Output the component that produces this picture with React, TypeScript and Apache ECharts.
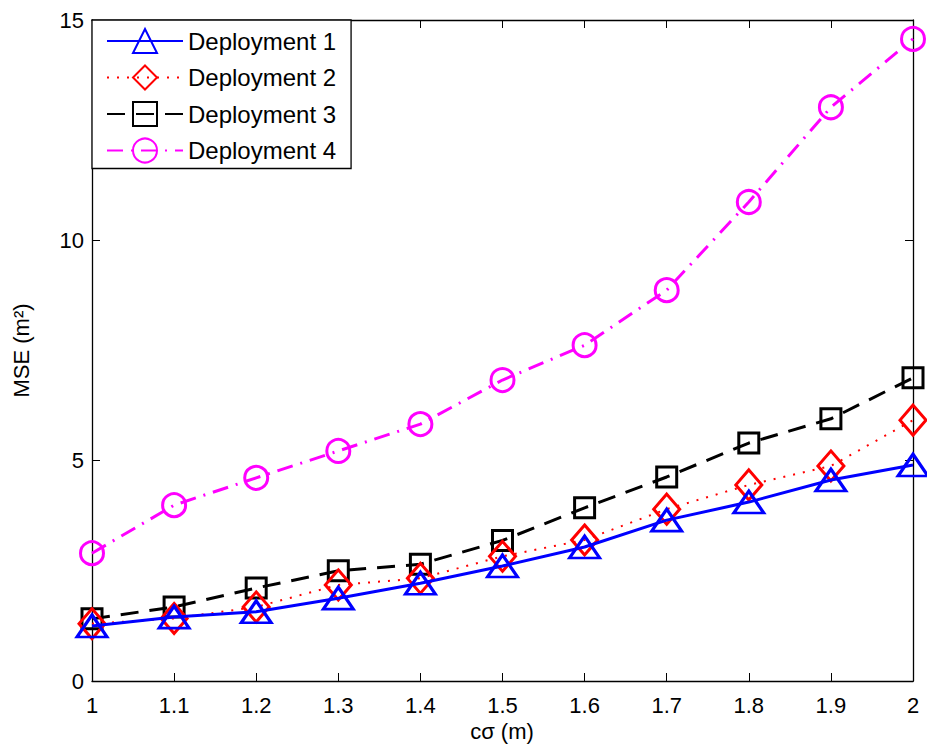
import React, { useEffect, useRef } from "react";
import * as echarts from "echarts";

const xValues = [1.0, 1.1, 1.2, 1.3, 1.4, 1.5, 1.6, 1.7, 1.8, 1.9, 2.0];
const dep1 = [1.25, 1.45, 1.57, 1.88, 2.22, 2.61, 3.04, 3.65, 4.06, 4.56, 4.9];
const dep2 = [1.3, 1.42, 1.68, 2.18, 2.33, 2.83, 3.2, 3.9, 4.45, 4.88, 5.92];
const dep3 = [1.41, 1.68, 2.11, 2.5, 2.65, 3.19, 3.93, 4.63, 5.4, 5.95, 6.88];
const dep4 = [2.9, 3.99, 4.61, 5.22, 5.83, 6.83, 7.62, 8.87, 10.87, 13.02, 14.57];
const seriesNames = ["Deployment 1", "Deployment 2", "Deployment 3", "Deployment 4"];
const yTicks = { min: 0, max: 15, interval: 5 };
const xTicks = { min: 1, max: 2, interval: 0.1 };
const xAxisTitle = "cσ (m)";
const yAxisTitle = "MSE (m²)";

const FONT = "Liberation Sans, Arial, Helvetica, sans-serif";

function pairs(ys: number[]) {
  return xValues.map((x, i) => [x, ys[i]]);
}

export default function App() {
  const ref = useRef<HTMLDivElement>(null);
  useEffect(() => {
    if (!ref.current) return;
    const chart = echarts.init(ref.current, undefined, { renderer: "svg" });
    const axisLine = { show: true, onZero: false, lineStyle: { color: "#000", width: 1.3 } };
    const tick = { show: true, inside: true, length: 8, lineStyle: { color: "#000", width: 1 } };
    chart.setOption({
      animation: false,
      backgroundColor: "#fff",
      textStyle: { fontFamily: FONT },
      grid: { left: 92, right: 14, top: 20, bottom: 63, containLabel: false, outerBoundsMode: "none" },
      graphic: [
        {
          type: "text",
          x: 502,
          y: 731,
          style: {
            text: xAxisTitle,
            fontSize: 22,
            lineHeight: 22,
            fontFamily: FONT,
            fill: "#000",
            align: "center",
            verticalAlign: "middle",
          },
        },
      ],
      legend: {
        data: seriesNames,
        orient: "vertical",
        left: 92,
        top: 20,
        backgroundColor: "#fff",
        borderColor: "#000",
        borderWidth: 1.3,
        borderRadius: 0,
        padding: [8, 15, 5, 14],
        itemWidth: 76,
        itemHeight: 30,
        itemGap: 10.5,
        textStyle: { fontSize: 24, color: "#000", fontFamily: FONT },
      },
      xAxis: [
        {
          type: "value",
          min: xTicks.min,
          max: xTicks.max,
          interval: xTicks.interval,
          axisLine,
          axisTick: tick,
          axisLabel: { fontSize: 22, lineHeight: 22, color: "#000", margin: 13, fontFamily: FONT },
          splitLine: { show: false },
        },
        {
          type: "value",
          position: "top",
          min: xTicks.min,
          max: xTicks.max,
          interval: xTicks.interval,
          axisLine,
          axisTick: tick,
          axisLabel: { show: false },
          splitLine: { show: false },
        },
      ],
      yAxis: [
        {
          type: "value",
          min: yTicks.min,
          max: yTicks.max,
          interval: yTicks.interval,
          name: yAxisTitle,
          nameLocation: "middle",
          nameGap: 60,
          nameTextStyle: { fontSize: 22, color: "#000", fontFamily: FONT },
          axisLine,
          axisTick: tick,
          axisLabel: { fontSize: 22, color: "#000", margin: 8, fontFamily: FONT },
          splitLine: { show: false },
        },
        {
          type: "value",
          position: "right",
          min: yTicks.min,
          max: yTicks.max,
          interval: yTicks.interval,
          axisLine,
          axisTick: tick,
          axisLabel: { show: false },
          splitLine: { show: false },
        },
      ],
      series: [
        {
          name: seriesNames[0],
          type: "line",
          data: pairs(dep1),
          symbol: "triangle",
          symbolSize: [30, 22],
          lineStyle: { color: "#0000ff", width: 3, type: "solid" },
          itemStyle: { color: "rgba(0,0,0,0)", borderColor: "#0000ff", borderWidth: 3 },
          z: 4,
        },
        {
          name: seriesNames[1],
          type: "line",
          data: pairs(dep2),
          symbol: "diamond",
          symbolSize: [26, 30],
          lineStyle: { color: "#ff0000", width: 2, type: [2, 8] },
          itemStyle: { color: "rgba(0,0,0,0)", borderColor: "#ff0000", borderWidth: 3 },
          z: 3,
        },
        {
          name: seriesNames[2],
          type: "line",
          data: pairs(dep3),
          symbol: "rect",
          symbolSize: 20,
          lineStyle: { color: "#000000", width: 3, type: [18, 11] },
          itemStyle: { color: "rgba(0,0,0,0)", borderColor: "#000000", borderWidth: 3 },
          z: 2,
        },
        {
          name: seriesNames[3],
          type: "line",
          data: pairs(dep4),
          symbol: "circle",
          symbolSize: 23,
          lineStyle: { color: "#ff00ff", width: 3, type: [16, 8, 2, 8] },
          itemStyle: { color: "rgba(0,0,0,0)", borderColor: "#ff00ff", borderWidth: 3 },
          z: 1,
        },
      ],
    });
    return () => chart.dispose();
  }, []);
  return <div ref={ref} style={{ width: 927, height: 744, position: "absolute", left: 0, top: 0 }} />;
}
